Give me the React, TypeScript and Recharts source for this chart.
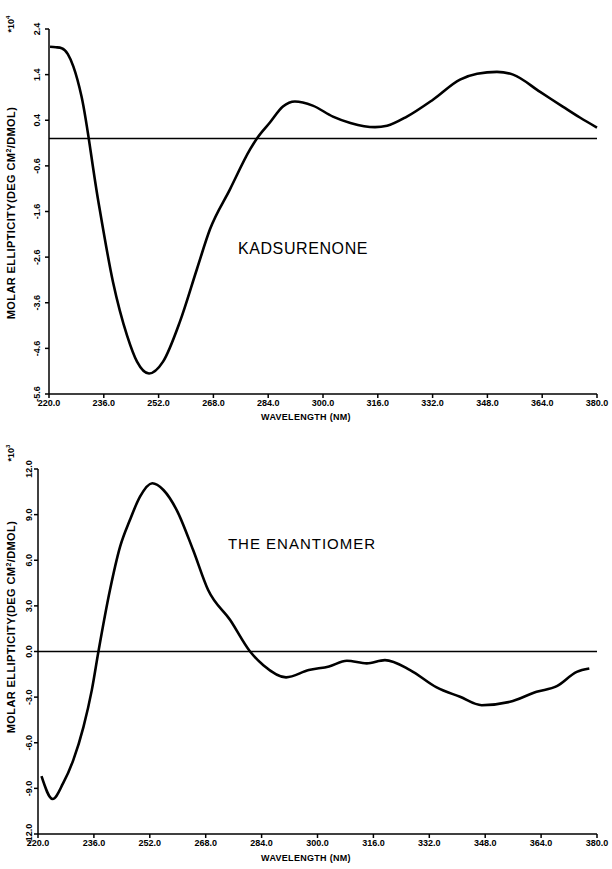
import React from 'react';
import { LineChart, Line, XAxis, YAxis, ReferenceLine } from 'recharts';

// wavelength ticks shared by both panels
const wavelengthTicks = [220, 236, 252, 268, 284, 300, 316, 332, 348, 364, 380];

// kadsurenone CD curve (x10^4)
const kadWavelength = [
  220.3, 222.0, 223.7, 225.5, 227.1, 229.5, 234.3, 238.7, 242.8, 245.7,
  249.2, 253.3, 258.2, 263.2, 267.0, 272.8, 278.7, 280.7, 284.5, 288.3, 291.8, 297.0,
  302.9, 308.0, 312.0, 315.2, 318.7, 324.5, 332.1, 340.0, 345.0, 350.8, 355.5, 363.4, 370.0, 375.0, 380.0,
];
const kadEllipticity = [
  2.01, 2.0, 1.98, 1.85, 1.58, 0.92, -1.33, -3.15, -4.32, -4.89,
  -5.15, -4.89, -4.02, -2.86, -1.99, -1.12, -0.24, 0.0, 0.35, 0.7, 0.81, 0.72,
  0.48, 0.34, 0.27, 0.25, 0.28, 0.48, 0.85, 1.29, 1.42, 1.46, 1.4, 1.02, 0.7, 0.46, 0.24,
];
const kadTicks = [2.4, 1.4, 0.4, -0.6, -1.6, -2.6, -3.6, -4.6, -5.6];

// enantiomer CD curve (x10^3)
const enaWavelength = [
  221.0, 224.2, 227.2, 230.1, 233.0, 235.4, 237.3, 240.6, 243.5, 246.3, 249.2, 252.7,
  255.9, 259.7, 264.4, 268.7, 275.0, 280.7, 284.5, 291.0, 297.5, 303.3, 308.4, 314.1,
  319.3, 326.5, 334.1, 340.8, 347.0, 355.1, 362.7, 368.5, 374.2, 377.8,
];
const enaEllipticity = [
  -8.2, -9.7, -8.66, -7.14, -4.97, -2.54, 0.0, 4.04, 6.89, 8.64, 10.18, 11.06,
  10.62, 9.3, 6.67, 4.04, 2.07, 0.0, -0.9, -1.7, -1.22, -0.98, -0.61, -0.78,
  -0.57, -1.22, -2.36, -2.98, -3.53, -3.31, -2.65, -2.28, -1.34, -1.12,
];
const enaTicks = [12, 9, 6, 3, 0, -3, -6, -9, -12];

const FONT = '"Liberation Sans", Arial, sans-serif';

const toRows = (xs: number[], ys: number[]) => xs.map((x, i) => ({ nm: x, v: ys[i] }));

const RotTick = (props: any) => {
  const { x, y, payload, shift } = props;
  const bx = x + shift;
  return (
    <text
      x={bx}
      y={y}
      transform={`rotate(-90 ${bx} ${y})`}
      textAnchor="middle"
      fontSize={9}
      fontWeight="bold"
      fontFamily={FONT}
      fill="#000"
    >
      {Number(payload.value).toFixed(1)}
    </text>
  );
};

const Panel = ({
  rows,
  yTicks,
  axisX,
  tickShift,
}: {
  rows: { nm: number; v: number }[];
  yTicks: number[];
  axisX: number;
  tickShift: number;
}) => (
  <LineChart
    width={612}
    height={429}
    data={rows}
    margin={{ top: 29, right: 15, bottom: 5, left: 0 }}
  >
    <XAxis
      dataKey="nm"
      type="number"
      domain={[220, 380]}
      ticks={wavelengthTicks}
      tickFormatter={(v: number) => v.toFixed(1)}
      tick={{ fontSize: 9, fontWeight: 'bold', fill: '#000', fontFamily: FONT }}
      tickSize={4}
      height={30}
      stroke="#000"
      strokeWidth={1.5}
      interval={0}
    />
    <YAxis
      type="number"
      domain={[yTicks[yTicks.length - 1], yTicks[0]]}
      ticks={yTicks}
      width={axisX}
      tickSize={4}
      stroke="#000"
      strokeWidth={1.5}
      interval={0}
      tick={<RotTick shift={tickShift} />}
    />
    <ReferenceLine y={0} stroke="#000" strokeWidth={1.5} />
    <Line
      dataKey="v"
      type="monotone"
      stroke="#000"
      strokeWidth={2.6}
      dot={false}
      isAnimationActive={false}
    />
  </LineChart>
);

const Txt = ({
  x,
  y,
  rotate,
  size,
  bold,
  spacing,
  children,
}: {
  x: number;
  y: number;
  rotate?: boolean;
  size: number;
  bold?: boolean;
  spacing?: number;
  children: React.ReactNode;
}) => (
  <div
    style={{
      position: 'absolute',
      left: x,
      top: y,
      transform: `translate(-50%, -50%)${rotate ? ' rotate(-90deg)' : ''}`,
      whiteSpace: 'nowrap',
      fontFamily: FONT,
      fontSize: size,
      fontWeight: bold ? 'bold' : 'normal',
      letterSpacing: spacing ?? 0,
      lineHeight: 1,
      color: '#000',
    }}
  >
    {children}
  </div>
);

export default function App() {
  return (
    <div
      style={{
        position: 'absolute',
        left: 0,
        top: 0,
        width: 612,
        height: 869,
        background: '#fff',
      }}
    >
      <div style={{ position: 'absolute', left: 0, top: 0 }}>
        <Panel rows={toRows(kadWavelength, kadEllipticity)} yTicks={kadTicks} axisX={49} tickShift={-3} />
      </div>
      <div style={{ position: 'absolute', left: 0, top: 440 }}>
        <Panel rows={toRows(enaWavelength, enaEllipticity)} yTicks={enaTicks} axisX={38} tickShift={0} />
      </div>

      <Txt x={10} y={24} rotate size={9} bold>
        *10<sup style={{ fontSize: 6 }}>4</sup>
      </Txt>
      <Txt x={11} y={213} rotate size={11} bold spacing={0.4}>
        MOLAR ELLIPTICITY(DEG CM<sup style={{ fontSize: 7 }}>2</sup>/DMOL)
      </Txt>
      <Txt x={306} y={417} size={9} bold spacing={0.3}>
        WAVELENGTH (NM)
      </Txt>
      <Txt x={303} y={249} size={16} spacing={0.6}>
        KADSURENONE
      </Txt>

      <Txt x={10} y={453} rotate size={9} bold>
        *10<sup style={{ fontSize: 6 }}>3</sup>
      </Txt>
      <Txt x={11} y={627} rotate size={11} bold spacing={0.4}>
        MOLAR ELLIPTICITY(DEG CM<sup style={{ fontSize: 7 }}>2</sup>/DMOL)
      </Txt>
      <Txt x={306} y={858} size={9} bold spacing={0.3}>
        WAVELENGTH (NM)
      </Txt>
      <Txt x={302} y={543} size={15} spacing={1}>
        THE ENANTIOMER
      </Txt>
    </div>
  );
}
